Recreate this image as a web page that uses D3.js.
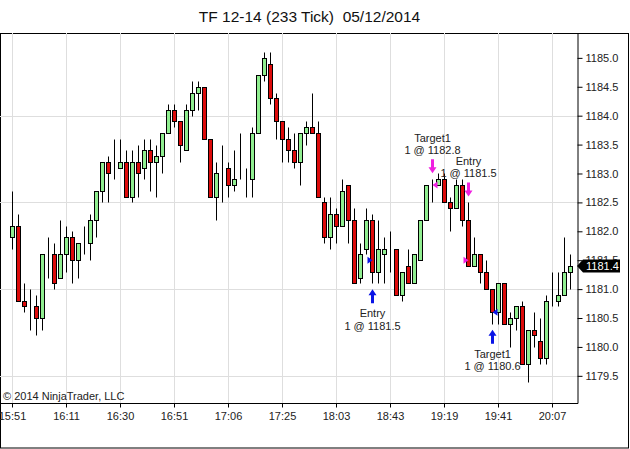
<!DOCTYPE html>
<html><head><meta charset="utf-8">
<script src="https://cdn.jsdelivr.net/npm/d3@7"></script>
<style>body{margin:0;background:#fff;} svg{display:block;font-family:"Liberation Sans",Arial,sans-serif;}</style>
</head><body><svg id="c" width="630" height="449"></svg>
<script>
const opens =[1181.9,1182.1,1180.8,1180.7,1180.7,1180.5,1181.6,1181.6,1181.2,1181.6,1181.9,1181.5,1181.8,1181.8,1182.2,1182.7,1183.2,1183.0,1183.1,1183.2,1182.6,1183.2,1183.1,1183.4,1183.2,1183.3,1183.7,1184.1,1183.9,1183.4,1184.1,1184.4,1184.5,1183.6,1182.6,1183.0,1183.1,1182.8,1182.9,1182.9,1182.9,1183.7,1184.7,1184.9,1184.3,1183.9,1183.6,1183.4,1183.2,1183.7,1183.8,1183.7,1182.5,1181.9,1182.3,1182.1,1182.8,1182.2,1181.2,1181.7,1182.2,1181.3,1181.6,1181.7,1181.7,1180.9,1181.4,1181.1,1181.5,1182.2,1182.8,1182.8,1182.9,1182.5,1182.4,1182.8,1182.2,1181.4,1181.6,1181.3,1181.0,1180.6,1181.1,1180.4,1180.5,1180.7,1179.7,1180.3,1180.1,1179.8,1180.8,1180.8,1180.9,1181.3];
const highs =[1182.7,1182.3,1181.1,1181.0,1180.9,1181.6,1181.9,1181.8,1182.2,1182.1,1182.0,1181.8,1182.1,1182.3,1182.7,1183.2,1183.3,1183.6,1183.6,1183.4,1183.4,1183.5,1183.6,1183.6,1183.5,1183.7,1184.2,1184.2,1183.9,1184.2,1184.6,1184.6,1184.5,1183.6,1183.2,1183.5,1183.2,1183.4,1183.7,1183.1,1183.8,1184.7,1185.1,1185.1,1184.4,1183.9,1183.8,1183.7,1183.7,1183.9,1184.4,1183.9,1182.6,1182.6,1182.4,1182.9,1182.8,1182.4,1181.8,1182.4,1182.3,1182.2,1181.9,1182.0,1181.7,1181.3,1181.7,1181.6,1182.2,1182.8,1182.9,1183.0,1183.0,1182.6,1182.9,1182.9,1182.5,1181.9,1181.6,1181.5,1181.0,1181.1,1181.1,1180.6,1180.7,1180.8,1180.3,1180.6,1180.5,1180.9,1181.3,1181.3,1181.9,1181.6];
const lows  =[1181.7,1180.8,1180.6,1180.3,1180.2,1180.3,1181.2,1181.0,1181.2,1181.3,1181.1,1181.2,1181.6,1181.5,1181.9,1182.5,1182.5,1182.9,1183.1,1182.6,1182.5,1182.6,1182.9,1182.7,1182.6,1183.0,1183.7,1183.8,1183.2,1183.4,1184.0,1184.1,1183.6,1182.6,1182.2,1182.5,1182.6,1182.7,1182.9,1182.6,1182.6,1183.7,1184.6,1184.2,1183.6,1183.2,1183.2,1183.1,1182.8,1183.5,1183.7,1182.6,1181.8,1181.7,1181.8,1182.1,1181.8,1181.1,1181.1,1181.6,1181.1,1181.1,1181.1,1181.3,1180.9,1180.8,1181.1,1181.1,1181.5,1182.2,1182.5,1182.8,1182.5,1182.0,1182.4,1182.1,1181.4,1181.4,1181.1,1181.0,1180.4,1180.4,1180.4,1180.0,1180.3,1179.7,1179.4,1180.0,1179.7,1179.7,1180.7,1180.7,1180.9,1181.0];
const closes=[1182.1,1180.8,1180.7,1180.7,1180.5,1181.6,1181.6,1181.1,1181.6,1181.9,1181.5,1181.8,1181.8,1182.2,1182.7,1183.2,1183.0,1183.0,1183.2,1182.6,1183.2,1183.0,1183.4,1183.2,1183.3,1183.7,1184.1,1183.9,1183.5,1184.1,1184.4,1184.5,1183.6,1182.6,1183.0,1183.0,1182.8,1182.9,1182.9,1182.9,1183.7,1184.7,1185.0,1184.3,1183.9,1183.6,1183.4,1183.2,1183.7,1183.8,1183.7,1182.6,1181.9,1182.3,1182.1,1182.7,1182.2,1181.1,1181.6,1182.2,1181.3,1181.7,1181.7,1181.7,1180.9,1181.3,1181.1,1181.6,1182.2,1182.8,1182.8,1182.9,1182.5,1182.4,1182.8,1182.2,1181.4,1181.6,1181.3,1181.0,1180.6,1181.1,1180.4,1180.5,1180.7,1179.7,1180.3,1180.2,1179.8,1180.8,1180.8,1180.9,1181.3,1181.4];
const timeLabels=["15:51","16:11","16:30","16:51","17:06","17:25","18:03","18:43","19:19","19:41","20:07"];
const timeIdx=[0,9,18,27,36,45,54,63,72,81,90];
const priceTicks=[1179.5,1180.0,1180.5,1181.0,1181.5,1182.0,1182.5,1183.0,1183.5,1184.0,1184.5,1185.0];
const gridPrices=[1179.5,1181.0,1182.5,1184.0];
const lastPrice=1181.4;
const execBar  =[60,70,76,80];
const execPrice=[1181.5,1182.8,1181.5,1180.6];
const execSide =["buy","sell","sell","buy"];
const execKind =["entry","exit","entry","exit"];
const execLabel=["Entry","Target1","Entry","Target1"];
const execQty  =[1,1,1,1];

const svg=d3.select("#c");
const plotL=0, plotR=577, plotT=33, plotB=403;
const x=d3.scaleLinear().domain([0,93]).range([12,570]);
const y=d3.scaleLinear().domain([1179.03,1185.43]).range([plotB,plotT]);
const cx=i=>Math.round(x(i))+0.5;
const cy=p=>Math.round(y(p))+0.5;

// title
svg.append("text").attr("x",309.5).attr("y",22).attr("text-anchor","middle")
  .attr("font-size",15.5).attr("fill","#111").attr("xml:space","preserve")
  .style("white-space","pre").text("TF 12-14 (233 Tick)  05/12/2014");

// outer frame
svg.append("rect").attr("x",0.5).attr("y",33.5).attr("width",628).attr("height",414.5)
  .attr("fill","none").attr("stroke","#000").attr("stroke-width",1);

// grid
const g=svg.append("g");
g.selectAll(".vg").data(timeIdx).join("line").attr("x1",d=>cx(d)).attr("x2",d=>cx(d))
  .attr("y1",plotT).attr("y2",plotB).attr("stroke","#dedede");
g.selectAll(".hg").data(gridPrices).join("line").attr("x1",plotL).attr("x2",plotR)
  .attr("y1",d=>cy(d)).attr("y2",d=>cy(d)).attr("stroke","#dedede");

// copyright
svg.append("text").attr("x",3).attr("y",400).attr("font-size",11).attr("fill","#222")
  .text("\u00A9 2014 NinjaTrader, LLC");

// candles
const idx=d3.range(opens.length);
const cg=svg.append("g");
cg.selectAll(".w").data(idx).join("line").attr("x1",cx).attr("x2",cx)
  .attr("y1",i=>cy(highs[i])).attr("y2",i=>cy(lows[i])).attr("stroke","#000");
cg.selectAll(".b").data(idx).join("rect")
  .attr("x",i=>cx(i)-2).attr("width",4)
  .attr("y",i=>cy(Math.max(opens[i],closes[i])))
  .attr("height",i=>Math.max(0,cy(Math.min(opens[i],closes[i]))-cy(Math.max(opens[i],closes[i]))))
  .attr("fill",i=>closes[i]>opens[i]?"#90ee90":(closes[i]<opens[i]?"#dd0b0b":"none"))
  .attr("stroke","#000");

// executions
const eg=svg.append("g");
execBar.forEach((b,k)=>{
  const X=cx(b), buy=execSide[k]==="buy", col=buy?"#0a14e6":"#f020e0";
  const py=y(execPrice[k]);
  if(execKind[k]==="entry"){
    eg.append("path").attr("d",`M${X},${py} L${X-5},${py-3.5} L${X-5},${py+3.5} Z`).attr("fill",col);
  } else {
    eg.append("path").attr("d",`M${X},${py} L${X+5},${py-3.5} L${X+5},${py+3.5} Z`).attr("fill",col);
  }
  const txt=[execLabel[k], execQty[k]+" @ "+execPrice[k].toFixed(1)];
  if(buy){
    const t=y(lows[b])+6;
    eg.append("path").attr("d",`M${X},${t} L${X+4},${t+6} L${X+1.5},${t+6} L${X+1.5},${t+14} L${X-1.5},${t+14} L${X-1.5},${t+6} L${X-4},${t+6} Z`).attr("fill",col);
    txt.forEach((s,j)=>eg.append("text").attr("x",X).attr("y",t+28+j*12.3).attr("text-anchor","middle")
      .attr("font-size",11).attr("fill","#222").text(s));
  } else {
    const t=y(highs[b])-6;
    eg.append("path").attr("d",`M${X},${t} L${X+4},${t-6} L${X+1.5},${t-6} L${X+1.5},${t-14} L${X-1.5},${t-14} L${X-1.5},${t-6} L${X-4},${t-6} Z`).attr("fill",col);
    txt.forEach((s,j)=>eg.append("text").attr("x",X).attr("y",t-19-(1-j)*12.3).attr("text-anchor","middle")
      .attr("font-size",11).attr("fill","#222").text(s));
  }
});

// y axis
const ya=svg.append("g").attr("transform",`translate(${plotR+0.5},0)`)
  .call(d3.axisRight(y).tickValues(priceTicks).tickFormat(d3.format(".1f")).tickSize(5).tickSizeOuter(0).tickPadding(3));
ya.select(".domain").attr("stroke","#000");
ya.selectAll("text").attr("font-size",11).attr("fill","#222").attr("font-family","Liberation Sans, Arial, sans-serif");
ya.selectAll(".tick line").attr("stroke","#000");

// x axis
svg.append("line").attr("x1",0).attr("x2",plotR+1).attr("y1",plotB+0.5).attr("y2",plotB+0.5).attr("stroke","#000");
const xa=svg.append("g").attr("transform",`translate(0.5,${plotB+0.5})`)
  .call(d3.axisBottom(x).tickValues(timeIdx).tickFormat((d,i)=>timeLabels[i]).tickSize(4).tickPadding(5));
xa.select(".domain").remove();
xa.selectAll("text").attr("font-size",11).attr("fill","#222").attr("font-family","Liberation Sans, Arial, sans-serif");
xa.selectAll(".tick line").attr("stroke","#000");
xa.selectAll(".tick").attr("transform",d=>`translate(${Math.round(x(d))},0)`);

// last price marker
const ly=y(lastPrice);
svg.append("path").attr("d",`M${plotR},${ly} L${plotR+6},${ly-6.5} L${plotR+43},${ly-6.5} L${plotR+43},${ly+6.5} L${plotR+6},${ly+6.5} Z`).attr("fill","#000");
svg.append("text").attr("x",plotR+9).attr("y",ly+4).attr("font-size",11).attr("fill","#fff").text(lastPrice.toFixed(1));
</script></body></html>
